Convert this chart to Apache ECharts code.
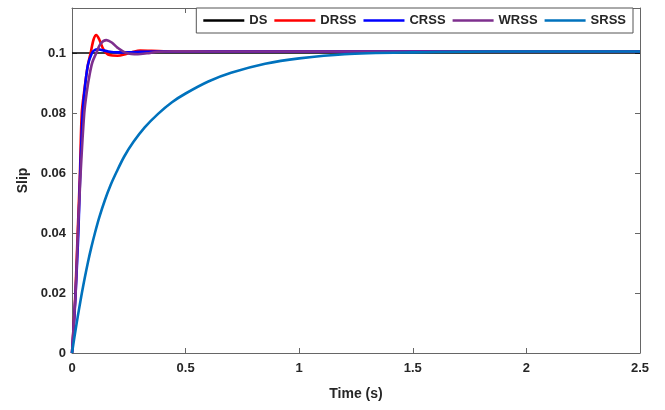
<!DOCTYPE html>
<html>
<head>
<meta charset="utf-8">
<script src="https://cdn.jsdelivr.net/npm/echarts@6/dist/echarts.min.js"></script>
<style>
  html, body { margin: 0; padding: 0; background: #fff; }
  #chart { width: 665px; height: 410px; }
</style>
</head>
<body>
<div id="chart"></div>
<script>
// Slip response of the different controllers over time (t in seconds)
const seriesNames = ['DS', 'DRSS', 'CRSS', 'WRSS', 'SRSS'];
const xTicks = [0, 0.5, 1, 1.5, 2, 2.5];
const yTicks = [0, 0.02, 0.04, 0.06, 0.08, 0.1];

// DS: desired slip reference
const dsTime = [0, 2.5];
const dsSlip = [0.1, 0.1];

// DRSS
const drssTime = [0, 0.008, 0.015, 0.025, 0.035, 0.043, 0.055, 0.07, 0.082, 0.095, 0.107, 0.12, 0.14, 0.165, 0.2, 0.235, 0.27, 0.3, 0.35, 0.45, 0.6, 1.0, 1.5, 2.0, 2.5];
const drssSlip = [0, 0.010, 0.020, 0.040, 0.060, 0.080, 0.088, 0.096, 0.100, 0.1045, 0.106, 0.1045, 0.1010, 0.0993, 0.0991, 0.0996, 0.1004, 0.1008, 0.1007, 0.1005, 0.1005, 0.1005, 0.1005, 0.1005, 0.1005];

// CRSS
const crssTime = [0, 0.008, 0.016, 0.028, 0.036, 0.047, 0.056, 0.07, 0.088, 0.1, 0.114, 0.13, 0.16, 0.2, 0.25, 0.3, 0.4, 0.6, 1.0, 1.5, 2.0, 2.5];
const crssSlip = [0, 0.009, 0.020, 0.040, 0.060, 0.080, 0.088, 0.096, 0.100, 0.1010, 0.1012, 0.1010, 0.1005, 0.1002, 0.1002, 0.1004, 0.1005, 0.1005, 0.1005, 0.1005, 0.1005, 0.1005];

// WRSS
const wrssTime = [0, 0.008, 0.016, 0.026, 0.038, 0.054, 0.065, 0.078, 0.09, 0.107, 0.125, 0.151, 0.175, 0.2, 0.24, 0.29, 0.33, 0.38, 0.45, 0.6, 1.0, 1.5, 2.0, 2.5];
const wrssSlip = [0, 0.010, 0.020, 0.040, 0.060, 0.080, 0.087, 0.093, 0.097, 0.100, 0.1030, 0.1043, 0.1035, 0.1018, 0.1000, 0.0996, 0.0999, 0.1004, 0.1006, 0.1005, 0.1005, 0.1005, 0.1005, 0.1005];

// SRSS
const srssTime = [0, 0.01, 0.02, 0.03, 0.043, 0.056, 0.07, 0.085, 0.101, 0.12, 0.145, 0.17, 0.197, 0.23, 0.27, 0.32, 0.38, 0.44, 0.5, 0.6, 0.7, 0.85, 1.0, 1.2, 1.5, 1.85, 2.2, 2.5];
const srssSlip = [0, 0.0050, 0.0097, 0.0142, 0.0198, 0.0250, 0.0302, 0.0352, 0.0400, 0.0452, 0.0510, 0.0560, 0.0605, 0.0655, 0.0703, 0.0752, 0.0798, 0.0836, 0.0865, 0.0905, 0.0934, 0.0964, 0.0982, 0.0996, 0.1002, 0.1005, 0.1005, 0.1005];

const colors = ['#000000', '#ff0000', '#0000ff', '#7e2f8e', '#0072bd'];
const widths = [1.4, 2.6, 2.6, 2.6, 2.6];

function pairs(xs, ys) { return xs.map((x, i) => [x, ys[i]]); }
const allData = [
  pairs(dsTime, dsSlip),
  pairs(drssTime, drssSlip),
  pairs(crssTime, crssSlip),
  pairs(wrssTime, wrssSlip),
  pairs(srssTime, srssSlip)
];

const FONT = 'Liberation Sans, Arial, Helvetica, sans-serif';
const axisColor = '#666666';
const labelColor = '#262626';

function tickLabel(list) {
  return function (v) {
    const hit = list.find(t => Math.abs(t - v) < 1e-9);
    return hit === undefined ? '' : String(hit);
  };
}

const frameLine = { show: true, onZero: false, lineStyle: { color: axisColor, width: 1 } };
const innerTick = { show: true, inside: true, length: 5, lineStyle: { color: axisColor } };

const chart = echarts.init(document.getElementById('chart'), null, { renderer: 'canvas' });

chart.setOption({
  animation: false,
  backgroundColor: '#ffffff',
  grid: { left: 72, right: 25, top: 8, bottom: 57, containLabel: false },
  legend: {
    data: seriesNames,
    right: 32,
    top: 8,
    orient: 'horizontal',
    icon: 'rect',
    itemWidth: 41,
    itemHeight: 2.4,
    itemGap: 7,
    padding: [6, 7, 6, 7],
    borderColor: '#555555',
    borderWidth: 1,
    backgroundColor: '#ffffff',
    textStyle: { fontFamily: FONT, fontWeight: 'bold', fontSize: 13, color: labelColor }
  },
  xAxis: [
    {
      type: 'value', min: 0, max: 2.5, interval: 0.5,
      name: 'Time (s)', nameLocation: 'middle', nameGap: 34,
      nameTextStyle: { fontFamily: FONT, fontWeight: 'bold', fontSize: 14, color: labelColor },
      axisLine: frameLine,
      axisTick: innerTick,
      axisLabel: { fontFamily: FONT, fontWeight: 'bold', fontSize: 13, color: labelColor, margin: 9, formatter: tickLabel(xTicks) },
      splitLine: { show: false }
    },
    {
      type: 'value', position: 'top', min: 0, max: 2.5, interval: 0.5,
      axisLine: frameLine,
      axisTick: innerTick,
      axisLabel: { show: false },
      splitLine: { show: false }
    }
  ],
  yAxis: [
    {
      type: 'value', min: 0, max: 0.115, interval: 0.02,
      name: 'Slip', nameLocation: 'middle', nameGap: 41, nameRotate: 90,
      nameTextStyle: { fontFamily: FONT, fontWeight: 'bold', fontSize: 14, color: labelColor },
      axisLine: frameLine,
      axisTick: innerTick,
      axisLabel: { fontFamily: FONT, fontWeight: 'bold', fontSize: 13, color: labelColor, margin: 6, formatter: tickLabel(yTicks) },
      splitLine: { show: false }
    },
    {
      type: 'value', position: 'right', min: 0, max: 0.115, interval: 0.02,
      axisLine: frameLine,
      axisTick: innerTick,
      axisLabel: { show: false },
      splitLine: { show: false }
    }
  ],
  series: seriesNames.map((name, i) => ({
    name: name,
    type: 'line',
    data: allData[i],
    xAxisIndex: 0,
    yAxisIndex: 0,
    showSymbol: false,
    symbol: 'none',
    smooth: i === 0 ? false : 0.3,
    color: colors[i],
    lineStyle: { color: colors[i], width: widths[i] },
    z: 2 + i
  }))
});
</script>
</body>
</html>
